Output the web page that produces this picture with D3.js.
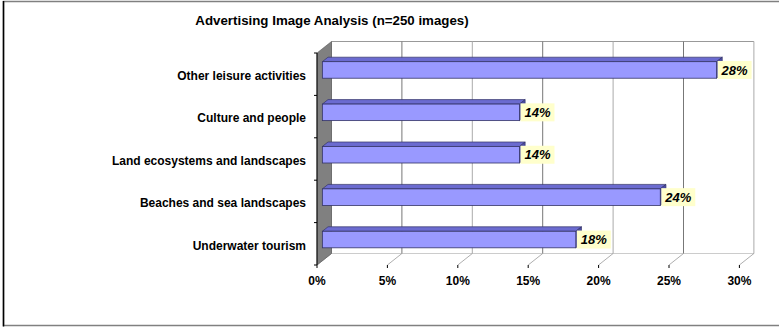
<!DOCTYPE html>
<html><head><meta charset="utf-8">
<script src="https://cdn.jsdelivr.net/npm/d3@7"></script>
<style>
body{margin:0;background:#fff;}
text{font-family:"Liberation Sans",Arial,sans-serif;font-weight:bold;}
</style></head>
<body><svg id="c" width="779" height="327"></svg>
<script>
const title = "Advertising Image Analysis (n=250 images)";
const categories = ["Other leisure activities","Culture and people","Land ecosystems and landscapes","Beaches and sea landscapes","Underwater tourism"];
const values = [28,14,14,24,18];
const xTicks = [0,5,10,15,20,25,30];

const svg = d3.select("#c");
const W = 779, H = 327;
// frame
svg.append("rect").attr("x",3.5).attr("y",1.5).attr("width",W).attr("height",H-2.5-0.5)
  .attr("fill","#fff").attr("stroke","#808080").attr("stroke-width",1.5);
svg.append("line").attr("x1",3.5).attr("x2",3.5).attr("y1",1).attr("y2",326.5).attr("stroke","#000").attr("stroke-width",1.5);

svg.append("text").attr("x",332).attr("y",20).attr("dy","0.36em").attr("text-anchor","middle")
  .attr("font-size",13.3).text(title);

const x = d3.scaleLinear().domain([0,30]).range([317,739.4]);
const y = d3.scaleBand().domain(categories).range([53,265]);
const DX = 14.5, DY = -11.5;
const yTop = 53, yBot = 265;

// back wall grid
const g = svg.append("g");
g.append("line").attr("x1",x(0)+DX).attr("x2",x(30)+DX).attr("y1",yTop+DY).attr("y2",yTop+DY).attr("stroke","#999").attr("stroke-width",1);
g.append("line").attr("x1",x(0)+DX).attr("x2",x(30)+DX).attr("y1",yBot+DY).attr("y2",yBot+DY).attr("stroke","#ccc").attr("stroke-width",1);
g.selectAll(".grid").data(xTicks).join("line")
  .attr("x1",d=>x(d)+DX).attr("x2",d=>x(d)+DX).attr("y1",yTop+DY).attr("y2",yBot+DY)
  .attr("stroke",(d,i)=> i%2? "#777":"#aaa").attr("stroke-width",1);
// floor diagonals
g.selectAll(".fl").data(xTicks).join("line")
  .attr("x1",d=>x(d)).attr("x2",d=>x(d)+DX).attr("y1",yBot).attr("y2",yBot+DY)
  .attr("stroke","#999").attr("stroke-width",0.8);
// x ticks
g.selectAll(".xt").data(xTicks).join("line")
  .attr("x1",d=>x(d)).attr("x2",d=>x(d)).attr("y1",yBot).attr("y2",yBot+3)
  .attr("stroke","#000").attr("stroke-width",1);
// left wall
g.append("path").attr("d",`M${x(0)},${yTop}L${x(0)+DX},${yTop+DY}L${x(0)+DX},${yBot+DY}L${x(0)},${yBot}Z`)
  .attr("fill","#808080").attr("stroke","#555").attr("stroke-width",0.6);
// category axis
g.append("line").attr("x1",x(0)).attr("x2",x(0)).attr("y1",yTop).attr("y2",yBot).attr("stroke","#000").attr("stroke-width",1);
const bandEdges = categories.map(c=>y(c)).concat([yBot]);
g.selectAll(".yt").data(bandEdges).join("line")
  .attr("x1",x(0)-3).attr("x2",x(0)).attr("y1",d=>d).attr("y2",d=>d).attr("stroke","#000").attr("stroke-width",1);

// bars
const f1 = 0.37, f2 = 0.76;
const bh = y.bandwidth()*0.39;
const bars = svg.append("g");
categories.forEach((c,i)=>{
  const v = values[i];
  const cy = y(c) + y.bandwidth()/2;
  const x0 = x(0)+DX*f1, x1 = x(v)+DX*f1;
  const yt = cy - bh/2 + DY*f1, yb = cy + bh/2 + DY*f1;
  const ddx = DX*(f2-f1), ddy = DY*(f2-f1);
  bars.append("path").attr("d",`M${x0},${yt}L${x0+ddx},${yt+ddy}L${x1+ddx},${yt+ddy}L${x1},${yt}Z`)
    .attr("fill","#6B6BD0").attr("stroke","#333366").attr("stroke-width",0.7);
  bars.append("path").attr("d",`M${x1},${yt}L${x1+ddx},${yt+ddy}L${x1+ddx},${yb+ddy}L${x1},${yb}Z`)
    .attr("fill","#4B4BA8").attr("stroke","#333366").attr("stroke-width",0.7);
  bars.append("rect").attr("x",x0).attr("y",yt).attr("width",x1-x0).attr("height",yb-yt)
    .attr("fill","#9999FF").attr("stroke","#333366").attr("stroke-width",0.8);
  const lx = x1+1, lw = 34, lh = 18;
  bars.append("rect").attr("x",lx).attr("y",(yt+yb)/2-lh/2).attr("width",lw).attr("height",lh).attr("fill","#FFFFCC");
  bars.append("text").attr("x",lx+lw/2).attr("y",(yt+yb)/2).attr("dy","0.36em").attr("text-anchor","middle")
    .attr("font-size",13).attr("font-style","italic").text(v+"%");
});

// category labels
svg.selectAll(".cl").data(categories).join("text")
  .attr("x",306).attr("y",d=>y(d)+y.bandwidth()/2+1.5).attr("dy","0.35em").attr("text-anchor","end")
  .attr("font-size",12).text(d=>d);
// x tick labels
svg.selectAll(".xl").data(xTicks).join("text")
  .attr("x",d=>x(d)).attr("y",281).attr("dy","0.35em").attr("text-anchor","middle")
  .attr("font-size",12).text(d=>d+"%");
</script></body></html>
